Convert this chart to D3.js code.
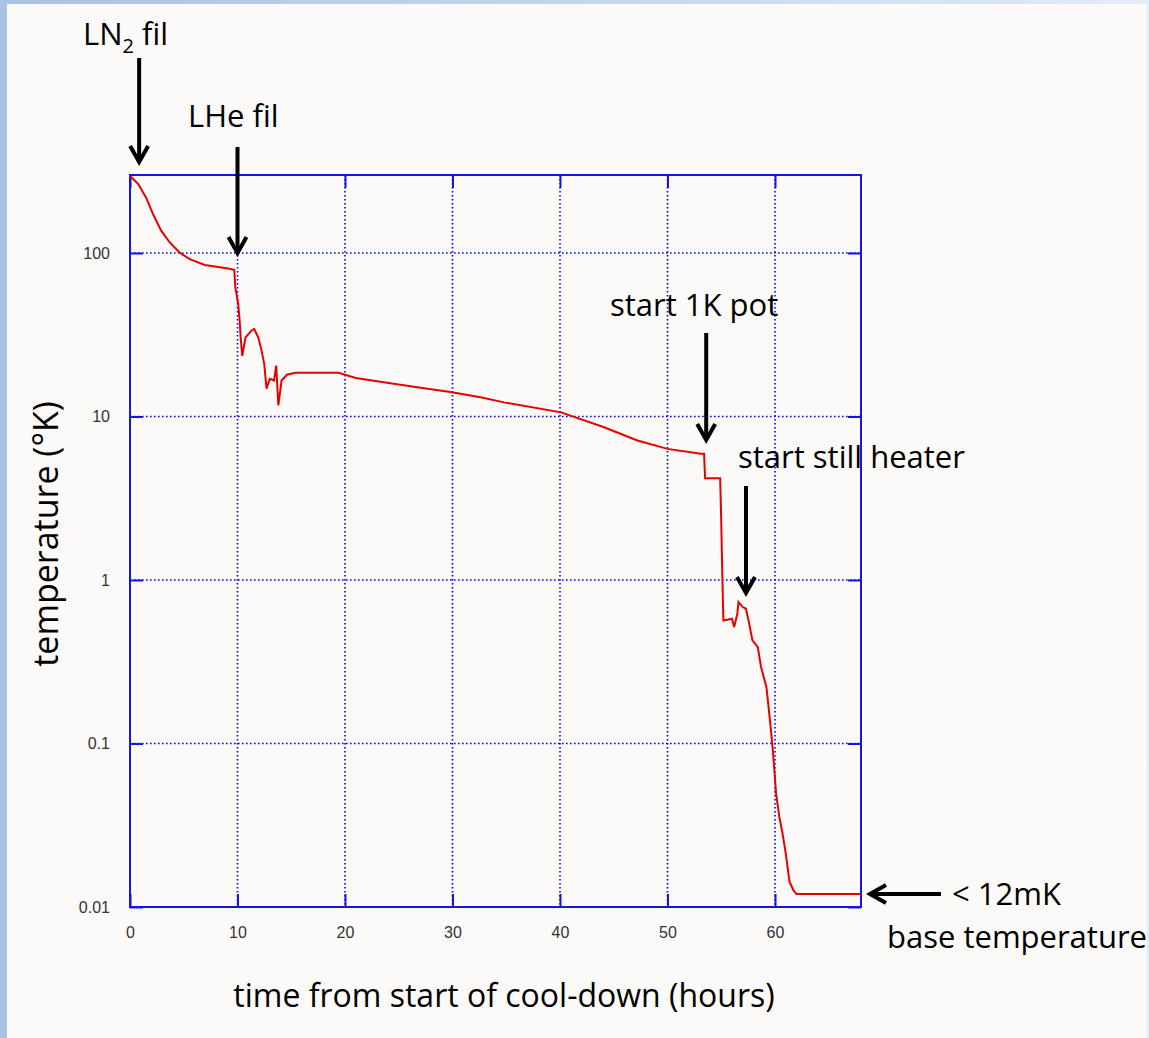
<!DOCTYPE html>
<html>
<head>
<meta charset="utf-8">
<script src="https://cdn.jsdelivr.net/npm/d3@7"></script>
<style>
  html, body { margin: 0; padding: 0; }
  body { width: 1149px; height: 1038px; overflow: hidden;
         background: linear-gradient(90deg, #a9c3e3 0%, #c9d9ee 60%, #e4ecf6 100%); }
</style>
</head>
<body>
<div id="chart"></div>
<script>
// hours since start of cool-down
const hours = [0, 0.75, 1.5, 2.14, 2.9, 3.7, 4.6, 5.56, 6.96, 9.13, 9.7, 9.8, 10.07, 10.2, 10.3, 10.44, 10.75, 11.3, 11.55,
  11.93, 12.24, 12.49, 12.7, 13.0, 13.4, 13.6, 13.8, 14.1, 14.6, 15.4, 19.4, 21.0, 23.6, 26.4, 29.8, 32.6, 34.8,
  40.1, 44.1, 47.2, 50.0, 53.1, 53.4, 53.5, 54.9, 55.0, 55.1, 55.2, 56.0, 56.2, 56.5, 56.6, 57.0, 57.3, 57.6,
  57.9, 58.4, 58.7, 59.2, 59.5, 59.8, 60.1, 60.4, 60.7, 61.0, 61.35, 61.7, 62.0, 68];
// temperature (K)
const kelvin = [296, 265, 218, 173, 137, 116, 100.7, 91.8, 84.4, 80.4, 78.9, 61.6, 48.7, 38.5, 30, 23.5, 30.5, 33.5, 34.3,
  30.5, 25.3, 20.9, 14.8, 17.0, 16.6, 20.5, 11.7, 16.6, 18.0, 18.5, 18.5, 17.2, 16.2, 15.2, 14.1, 13.1, 12.2,
  10.6, 8.59, 7.13, 6.34, 5.91, 5.91, 4.19, 4.19, 2.26, 1.07, 0.566, 0.58, 0.515, 0.622, 0.733, 0.683, 0.667, 0.541,
  0.428, 0.389, 0.294, 0.222, 0.145, 0.091, 0.0495, 0.0356, 0.0282, 0.0213, 0.0143, 0.0127, 0.012, 0.012];

const xTicks = [0, 10, 20, 30, 40, 50, 60];
const yTicks = [0.01, 0.1, 1, 10, 100];
const yTickLabels = ["0.01", "0.1", "1", "10", "100"];

const width = 1149, height = 1038;
const margin = { top: 175, right: 288, bottom: 131, left: 130 };

const svg = d3.select("#chart").append("svg")
  .attr("width", width).attr("height", height);

svg.append("rect")
  .attr("x", 7).attr("y", 4).attr("width", 1140).attr("height", height - 4)
  .attr("fill", "#fbfaf9");

const x = d3.scaleLinear().domain([0, 68]).range([margin.left, width - margin.right]);
const y = d3.scaleLog().domain([0.01, 300]).range([height - margin.bottom, margin.top]);

const blue = "#1414e6";

// grid
const grid = svg.append("g")
  .attr("stroke", "#0000ff").attr("stroke-width", 1.6)
  .attr("stroke-dasharray", "1.6,2.4");
grid.selectAll(".gx").data(xTicks.slice(1)).join("line")
  .attr("x1", d => x(d)).attr("x2", d => x(d))
  .attr("y1", y.range()[1]).attr("y2", y.range()[0]);
grid.selectAll(".gy").data(yTicks.slice(1)).join("line")
  .attr("x1", x.range()[0]).attr("x2", x.range()[1])
  .attr("y1", d => y(d)).attr("y2", d => y(d));

// axes with inward ticks
const tickFont = g => g.selectAll("text")
  .attr("font-family", "Liberation Sans, Arial, sans-serif")
  .attr("font-size", 16).attr("fill", "#333");

svg.append("g")
  .attr("transform", `translate(0,${y.range()[0]})`)
  .call(d3.axisBottom(x).tickValues(xTicks).tickSize(-13).tickPadding(20).tickSizeOuter(0))
  .call(g => g.select(".domain").remove())
  .call(g => g.selectAll("line").attr("stroke", blue).attr("stroke-width", 2))
  .call(tickFont);

svg.append("g")
  .attr("transform", `translate(${x.range()[0]},0)`)
  .call(d3.axisLeft(y).tickValues(yTicks).tickFormat((d, i) => yTickLabels[i]).tickSize(-13).tickPadding(20).tickSizeOuter(0))
  .call(g => g.select(".domain").remove())
  .call(g => g.selectAll("line").attr("stroke", blue).attr("stroke-width", 2))
  .call(tickFont);

svg.append("g")
  .attr("transform", `translate(${x.range()[1]},0)`)
  .call(d3.axisRight(y).tickValues(yTicks).tickSize(-13).tickFormat("").tickSizeOuter(0))
  .call(g => g.select(".domain").remove())
  .call(g => g.selectAll("line").attr("stroke", blue).attr("stroke-width", 2));

svg.append("g")
  .attr("transform", `translate(0,${y.range()[1]})`)
  .call(d3.axisTop(x).tickValues(xTicks).tickSize(-13).tickFormat("").tickSizeOuter(0))
  .call(g => g.select(".domain").remove())
  .call(g => g.selectAll("line").attr("stroke", blue).attr("stroke-width", 2));

// frame
svg.append("rect")
  .attr("x", x.range()[0]).attr("y", y.range()[1])
  .attr("width", x.range()[1] - x.range()[0])
  .attr("height", y.range()[0] - y.range()[1])
  .attr("fill", "none").attr("stroke", blue).attr("stroke-width", 2);

// temperature curve
const line = d3.line()
  .x((d, i) => x(hours[i]))
  .y(d => y(d));

svg.append("path")
  .datum(kelvin)
  .attr("fill", "none")
  .attr("stroke", "#e60000")
  .attr("stroke-width", 2)
  .attr("stroke-linejoin", "miter")
  .attr("d", line);

// titles
const font = "'Open Sans', 'Noto Sans', sans-serif";
svg.append("text")
  .attr("x", 504).attr("y", 1007)
  .attr("text-anchor", "middle")
  .attr("font-family", font).attr("font-size", 32).attr("fill", "#000")
  .text("time from start of cool-down (hours)");

svg.append("text")
  .attr("transform", "translate(58,534) rotate(-90)")
  .attr("text-anchor", "middle")
  .attr("font-family", font).attr("font-size", 34).attr("fill", "#000")
  .text("temperature (°K)");

// annotations
function arrowDown(px, y0, y1) {
  const g = svg.append("g").attr("stroke", "#000").attr("stroke-width", 4).attr("fill", "none");
  g.append("line").attr("x1", px).attr("x2", px).attr("y1", y0).attr("y2", y1 - 2);
  g.append("polyline").attr("points", `${px - 9},${y1 - 16} ${px},${y1} ${px + 9},${y1 - 16}`)
    .attr("stroke-linejoin", "miter");
}
function arrowLeft(py, x0, x1) {
  const g = svg.append("g").attr("stroke", "#000").attr("stroke-width", 4).attr("fill", "none");
  g.append("line").attr("x1", x0).attr("x2", x1 + 2).attr("y1", py).attr("y2", py);
  g.append("polyline").attr("points", `${x1 + 16},${py - 9} ${x1},${py} ${x1 + 16},${py + 9}`);
}
function label(tx, ty, text) {
  return svg.append("text").attr("x", tx).attr("y", ty)
    .attr("font-family", font).attr("font-size", 31).attr("fill", "#000").text(text);
}

const ln2 = label(83, 45, "LN");
ln2.append("tspan").attr("font-size", 20).attr("dy", 8).text("2");
ln2.append("tspan").attr("dy", -8).text(" fil");
arrowDown(x(0.85), 58, 162);

label(188, 127, "LHe fil");
arrowDown(x(10), 147, y(100));

label(610, 316, "start 1K pot");
arrowDown(x(53.6), 333, 440);

label(738, 468, "start still heater");
arrowDown(x(57.3), 486, 593);

label(952, 905, "< 12mK");
label(887, 948, "base temperature");
arrowLeft(y(0.012), 941, 870);
</script>
</body>
</html>
